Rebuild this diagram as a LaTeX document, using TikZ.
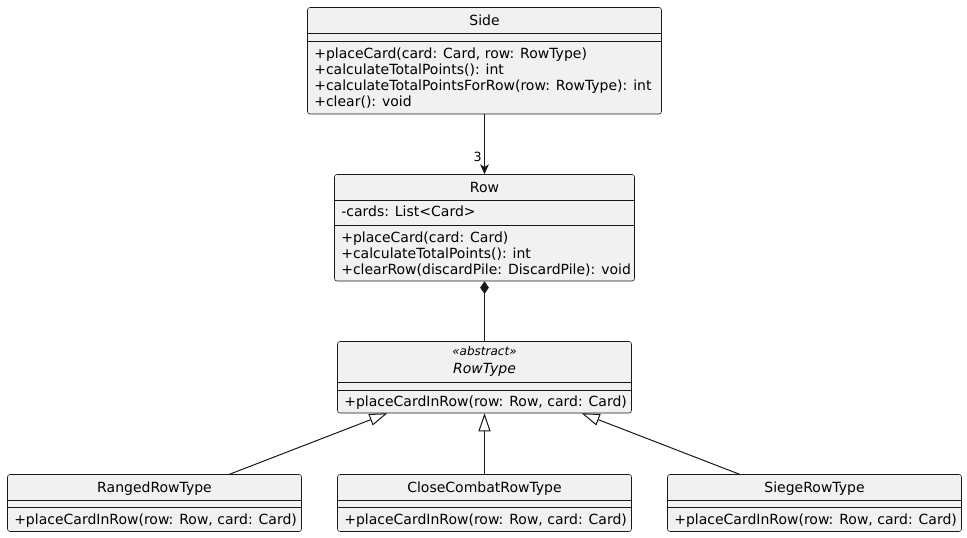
\documentclass[tikz,border=0pt]{standalone}
\usepackage{fontspec}
\setmainfont{DejaVu Sans}
\usetikzlibrary{arrows.meta,fit,calc}

\definecolor{umlfill}{HTML}{F1F1F1}
\definecolor{umlline}{HTML}{181818}

\tikzset{
  classbox/.style={draw=umlline, fill=umlfill, line width=0.4pt, rounded corners=1.9pt, inner sep=0pt},
  compline/.style={draw=umlline, line width=0.4pt},
  member/.style={anchor=base west, inner sep=0pt, font=\fontsize{10.5}{12}\selectfont},
  classname/.style={anchor=base, inner sep=0pt, font=\fontsize{10.5}{12}\selectfont},
  assoc/.style={draw=umlline, line width=0.75pt, -{Stealth[length=7.5pt,width=6.5pt,inset=2.2pt]}},
  compose/.style={draw=umlline, line width=0.75pt, {Diamond[length=9.5pt,width=6.5pt]}-},
  extends/.style={draw=umlline, line width=0.75pt, -{Triangle[open,length=13.5pt,width=9pt]}},
}

\begin{document}
\begin{tikzpicture}[x=0.75pt,y=0.75pt,yscale=-1,xscale=1]
\useasboundingbox (0,0) rectangle (967,538);

%Shape: Class Side
\node [classbox, fit={(307.5,7.5) (661.5,114)}] (side) {};
\draw [compline] (307.5,33) -- (661.5,33) ;
\draw [compline] (307.5,41) -- (661.5,41) ;
% Text Node
\node [classname] (side-title) at (484.5,26) {Side};
\node [member] (side-m1) at (314,58.3) {+placeCard(card: Card, row: RowType)};
\node [member] (side-m2) at (314,74.5) {+calculateTotalPoints(): int};
\node [member] (side-m3) at (314,90.7) {+calculateTotalPointsForRow(row: RowType): int};
\node [member] (side-m4) at (314,106.7) {+clear(): void};

%Shape: Class Row
\node [classbox, fit={(334.5,174.5) (634.5,281)}] (row) {};
\draw [compline] (334.5,200) -- (634.5,200) ;
\draw [compline] (334.5,225) -- (634.5,225) ;
% Text Node
\node [classname] (row-title) at (484.5,192.3) {Row};
\node [member] (row-a1) at (341,216.7) {-cards: List<Card>};
\node [member] (row-m1) at (341,242.3) {+placeCard(card: Card)};
\node [member] (row-m2) at (341,258.3) {+calculateTotalPoints(): int};
\node [member] (row-m3) at (341,274.3) {+clearRow(discardPile: DiscardPile): void};

%Shape: Class RowType
\node [classbox, fit={(337.5,341.5) (631.5,413)}] (rowtype) {};
\draw [compline] (337.5,382) -- (631.5,382) ;
\draw [compline] (337.5,390) -- (631.5,390) ;
% Text Node
\node [classname, font=\fontsize{9}{11}\selectfont\itshape] (rowtype-st) at (484.5,355.5) {«abstract»};
\node [classname, font=\fontsize{10.5}{12}\selectfont\itshape] (rowtype-title) at (484.5,373.3) {RowType};
\node [member] (rowtype-m1) at (344,406.7) {+placeCardInRow(row: Row, card: Card)};

%Shape: Class RangedRowType
\node [classbox, fit={(7.5,474.5) (301.5,531.5)}] (ranged) {};
\draw [compline] (7.5,500) -- (301.5,500) ;
\draw [compline] (7.5,507.7) -- (301.5,507.7) ;
\node [classname] (ranged-title) at (154.5,492.3) {RangedRowType};
\node [member] (ranged-m1) at (14,524) {+placeCardInRow(row: Row, card: Card)};

%Shape: Class CloseCombatRowType
\node [classbox, fit={(337.5,474.5) (631.5,531.5)}] (close) {};
\draw [compline] (337.5,500) -- (631.5,500) ;
\draw [compline] (337.5,507.7) -- (631.5,507.7) ;
\node [classname] (close-title) at (484.5,492.3) {CloseCombatRowType};
\node [member] (close-m1) at (344,524) {+placeCardInRow(row: Row, card: Card)};

%Shape: Class SiegeRowType
\node [classbox, fit={(667.5,474.5) (961.5,531.5)}] (siege) {};
\draw [compline] (667.5,500) -- (961.5,500) ;
\draw [compline] (667.5,507.7) -- (961.5,507.7) ;
\node [classname] (siege-title) at (814.5,492.3) {SiegeRowType};
\node [member] (siege-m1) at (674,524) {+placeCardInRow(row: Row, card: Card)};

%Straight Lines
\draw [assoc] (side.south) -- (row.north) ;
\node [anchor=base east, inner sep=0pt, font=\fontsize{9.5}{11}\selectfont] (mult) at (482,161.5) {3};
\draw [compose] (row.south) -- (rowtype.north) ;
\draw [extends] ($(ranged.north)!0.51!(ranged.north east)$) -- ($(rowtype.south)!0.66!(rowtype.south west)$) ;
\draw [extends] (close.north) -- (rowtype.south) ;
\draw [extends] ($(siege.north)!0.51!(siege.north west)$) -- ($(rowtype.south)!0.66!(rowtype.south east)$) ;

\end{tikzpicture}
\end{document}
